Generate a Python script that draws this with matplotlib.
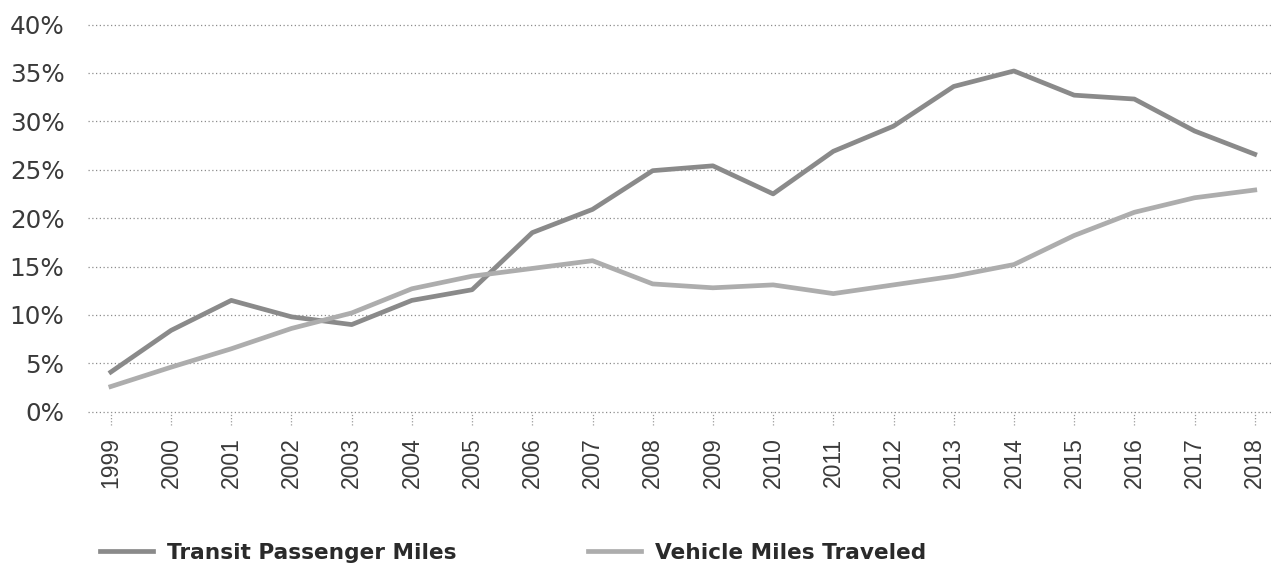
import matplotlib
matplotlib.use("Agg")
import matplotlib.pyplot as plt
import matplotlib.transforms as mtransforms

years = list(range(1999, 2019))
transit = [4.1, 8.4, 11.5, 9.8, 9.0, 11.5, 12.6, 18.5, 20.9, 24.9, 25.4, 22.5,
           26.9, 29.5, 33.6, 35.2, 32.7, 32.3, 29.0, 26.6]
vehicle = [2.6, 4.6, 6.5, 8.6, 10.2, 12.7, 14.0, 14.8, 15.6, 13.2, 12.8, 13.1,
           12.2, 13.1, 14.0, 15.2, 18.2, 20.6, 22.1, 22.9]
y_ticks = [0, 5, 10, 15, 20, 25, 30, 35, 40]
series_names = ["Transit Passenger Miles", "Vehicle Miles Traveled"]

plt.rcParams["font.family"] = ["Liberation Sans", "DejaVu Sans"]

W, H = 1278, 567
fig = plt.figure(figsize=(W / 100, H / 100), dpi=100)
ax = fig.add_axes([88 / W, 1 - 411.7 / H, (1271 - 88) / W, (411.7 - 24.5) / H])

l1, = ax.plot(years, transit, color="#8a8a8a", lw=3.4, label=series_names[0],
              solid_joinstyle="round", zorder=3)
l2, = ax.plot(years, vehicle, color="#adadad", lw=3.4, label=series_names[1],
              solid_joinstyle="round", zorder=3)

ax.set_xlim(1998.62, 2018.27)
ax.set_ylim(0, 40)
ax.set_yticks(y_ticks)
ax.set_yticklabels([f"{v}%" for v in y_ticks], family="DejaVu Sans")
ax.set_xticks(years)
ax.set_xticklabels([str(y) for y in years], rotation=90, va="top")

for s in ax.spines.values():
    s.set_visible(False)
ax.yaxis.grid(True, linestyle=(0, (1, 2)), color="#8c8c8c", lw=0.9)
for g in ax.get_ygridlines():
    g.set_clip_on(False)
ax.set_axisbelow(True)
ax.tick_params(axis="y", length=0, pad=17, labelsize=17.7, labelcolor="#3a3a3a")
ax.tick_params(axis="x", length=0, pad=18.5, labelsize=16.5, labelcolor="#3a3a3a")

# dotted tick marks under the axis
trans = mtransforms.blended_transform_factory(ax.transData, ax.transAxes)
ax.vlines(years, -13.5 / 387.2, 0, transform=trans, colors="#9a9a9a",
          linestyles=(0, (1, 1.5)), lw=0.9, clip_on=False)

legend_font = {"family": "DejaVu Sans", "size": 15.6, "weight": "bold"}
for handle, x0 in [(l1, 100), (l2, 588)]:
    leg = fig.legend(handles=[handle], loc="center left",
                     bbox_to_anchor=(x0 / W, 1 - 553 / H), frameon=False,
                     handlelength=2.45, handletextpad=0.65, borderaxespad=0,
                     borderpad=0, prop=legend_font)
    for t in leg.get_texts():
        t.set_color("#2a2a2a")
    for h in leg.get_lines():
        h.set_linewidth(3.4)

fig.savefig("out.png", dpi=100)
